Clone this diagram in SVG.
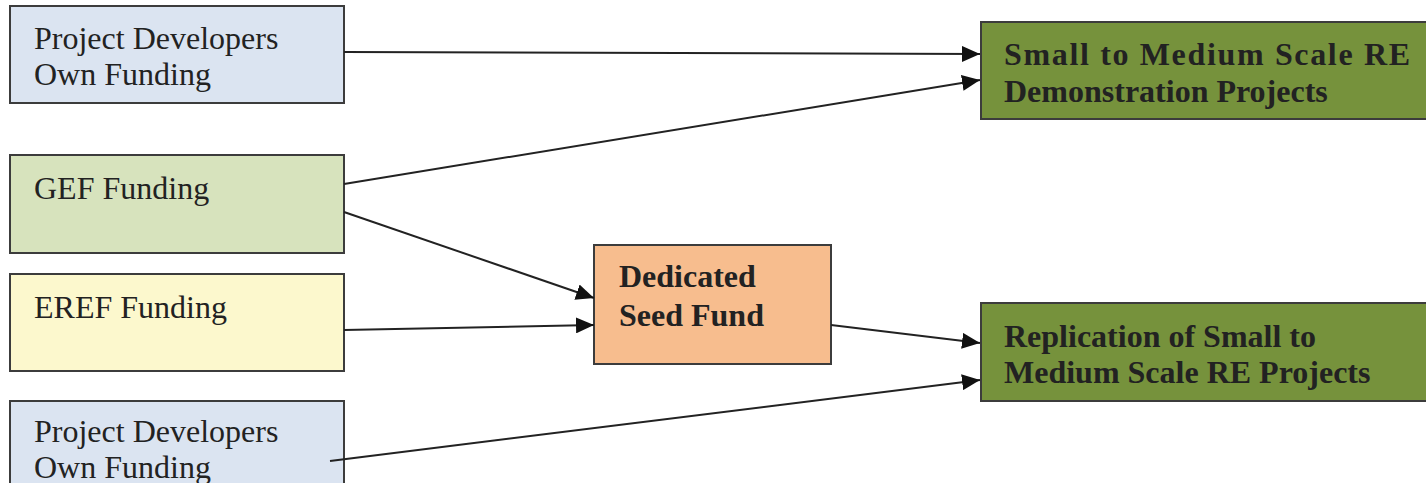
<svg xmlns="http://www.w3.org/2000/svg" width="1426" height="483" viewBox="0 0 1426 483">
<style>
.box{stroke:#3c3c3c;stroke-width:2}
.t{font-family:"Liberation Serif","Times New Roman",serif;font-size:32px;fill:#222}
.b{font-family:"Liberation Serif","Times New Roman",serif;font-size:32px;font-weight:bold;fill:#222}
.c{stroke:#222;stroke-width:2;fill:none;marker-end:url(#ah)}
</style>
<defs>
<marker id="ah" markerUnits="userSpaceOnUse" markerWidth="19" markerHeight="16" refX="18" refY="8" orient="auto">
<path d="M0,0 L18,8 L0,16 Z" fill="#111"/>
</marker>
</defs>
<rect width="1426" height="483" fill="#fff"/>
<g id="pd1">
<rect class="box" x="10" y="6" width="334" height="97" fill="#dbe4f1"/>
<text class="t" x="34" y="49">Project Developers</text>
<text class="t" x="34" y="85">Own Funding</text>
</g>
<g id="gef">
<rect class="box" x="10" y="155" width="334" height="98" fill="#d7e3bd"/>
<text class="t" x="34" y="199">GEF Funding</text>
</g>
<g id="eref">
<rect class="box" x="10" y="274" width="334" height="97" fill="#fcf8cd"/>
<text class="t" x="34" y="318">EREF Funding</text>
</g>
<g id="pd2">
<rect class="box" x="10" y="401" width="334" height="100" fill="#dbe4f1"/>
<text class="t" x="34" y="442">Project Developers</text>
<text class="t" x="34" y="478">Own Funding</text>
</g>
<g id="seed">
<rect class="box" x="594" y="245" width="237" height="119" fill="#f7bd8e"/>
<text class="b" x="619" y="287">Dedicated</text>
<text class="b" x="619" y="326">Seed Fund</text>
</g>
<g id="demo">
<rect class="box" x="981" y="22" width="460" height="97" fill="#76923c"/>
<text class="b" x="1004" y="65" textLength="406" lengthAdjust="spacing">Small to Medium Scale RE</text>
<text class="b" x="1004" y="102">Demonstration Projects</text>
</g>
<g id="repl">
<rect class="box" x="981" y="303" width="460" height="98" fill="#76923c"/>
<text class="b" x="1004" y="347">Replication of Small to</text>
<text class="b" x="1004" y="383">Medium Scale RE Projects</text>
</g>
<g id="connectors">
<line class="c" x1="344" y1="52" x2="980" y2="54"/>
<line class="c" x1="344" y1="184" x2="980" y2="80"/>
<line class="c" x1="344" y1="212" x2="594" y2="298"/>
<line class="c" x1="344" y1="330" x2="594" y2="325"/>
<line class="c" x1="831" y1="325" x2="980" y2="343"/>
<line class="c" x1="330" y1="461" x2="980" y2="380"/>
</g>
</svg>
